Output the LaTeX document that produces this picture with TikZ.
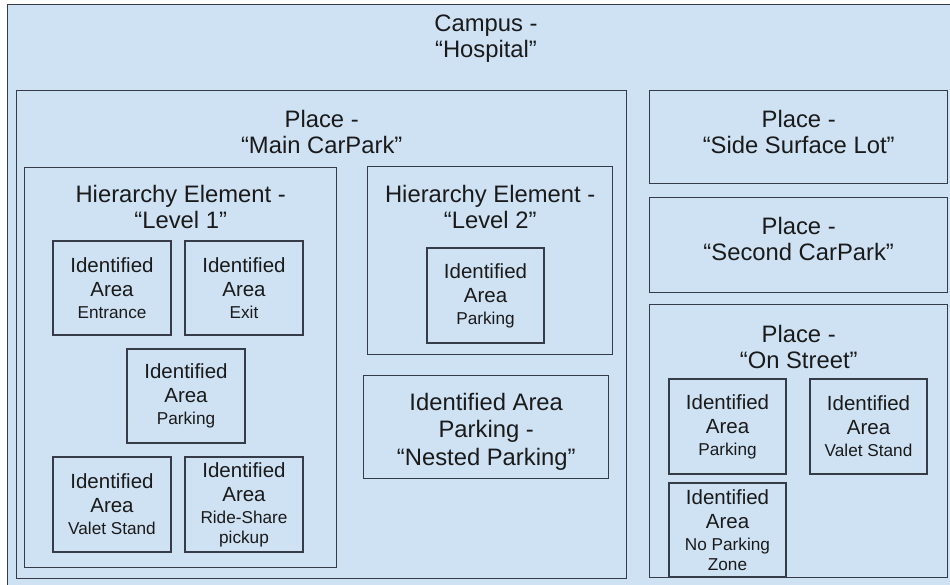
\documentclass[tikz,border=0pt]{standalone}
\usepackage{fontspec}
\setmainfont{Liberation Sans}
\usetikzlibrary{positioning}
\definecolor{gd_fill}{HTML}{CFE2F3}
\definecolor{gd_line}{HTML}{353B47}
\definecolor{gd_text}{HTML}{1A1A1A}
\tikzstyle{place} = [rectangle, draw=gd_line, line width=1.4pt, fill=gd_fill, anchor=north west, inner sep=0pt]
\tikzstyle{title} = [anchor=north, inner sep=0pt, align=center, text=gd_text, font=\fontsize{23.8}{26}\selectfont]
\tikzstyle{area} = [place, anchor=center, align=center, text=gd_text, font=\fontsize{20.5}{24}\selectfont]
\newcommand{\arealabel}[1]{{\fontsize{17.2}{20}\selectfont #1}}

\begin{document}
\begin{tikzpicture}[x=1pt, y=-1pt]
        \clip (0,0) rectangle (950,585);
        \fill[white] (0,0) rectangle (950,585);

        % campus
        \node (campus) [place, minimum width=990pt, minimum height=640pt] at (7,4) {};
        \node (campus_t) [title] at (486,15) {Campus -\\“Hospital”};

        % main car park
        \node (maincp) [place, minimum width=610pt, minimum height=488pt] at (16,90) {};
        \node (maincp_t) [title] at (maincp.north |- 0,110) {Place -\\“Main CarPark”};

        \node (lvlone) [place, minimum width=312pt, minimum height=400pt] at (24,167) {};
        \node (lvlone_t) [title] at (lvlone.north |- 0,185) {Hierarchy Element -\\“Level 1”};
        \node (lvlone_entr) [area, minimum width=118pt, minimum height=94pt] at (112,288) {Identified\\Area\\[-2pt]\arealabel{Entrance}};
        \node (lvlone_exit) [area, minimum width=118pt, minimum height=94pt] at (244,288) {Identified\\Area\\[-2pt]\arealabel{Exit}};
        \node (lvlone_park) [area, minimum width=118pt, minimum height=94pt] at (186,396) {Identified\\Area\\[-2pt]\arealabel{Parking}};
        \node (lvlone_valet) [area, minimum width=118pt, minimum height=95pt] at (112,504.5) {Identified\\Area\\[-2pt]\arealabel{Valet Stand}};
        \node (lvlone_ride) [area, minimum width=118pt, minimum height=95pt] at (244,504.5) {Identified\\Area\\[-2pt]\arealabel{Ride-Share}\\[-4pt]\arealabel{pickup}};

        \node (lvltwo) [place, minimum width=245pt, minimum height=188pt] at (367,166) {};
        \node (lvltwo_t) [title] at (lvltwo.north |- 0,185) {Hierarchy Element -\\“Level 2”};
        \node (lvltwo_park) [area, minimum width=117pt, minimum height=95pt] at (485.5,295.5) {Identified\\Area\\[-2pt]\arealabel{Parking}};

        \node (nested) [place, minimum width=245pt, minimum height=103pt] at (363,375) {};
        \node (nested_t) [title] at (nested.north |- 0,393) {Identified Area\\[1.5pt]Parking -\\[1.5pt]“Nested Parking”};

        % right column
        \node (sidelot) [place, minimum width=298pt, minimum height=93pt] at (649,90) {};
        \node (sidelot_t) [title] at (sidelot.north |- 0,110) {Place -\\“Side Surface Lot”};

        \node (secondcp) [place, minimum width=298pt, minimum height=95pt] at (649,197) {};
        \node (secondcp_t) [title] at (secondcp.north |- 0,217) {Place -\\“Second CarPark”};

        \node (street) [place, minimum width=298pt, minimum height=273pt] at (649,304) {};
        \node (street_t) [title] at (street.north |- 0,325) {Place -\\“On Street”};
        \node (street_park) [area, minimum width=117pt, minimum height=95pt] at (727.5,426.5) {Identified\\Area\\[-2pt]\arealabel{Parking}};
        \node (street_valet) [area, minimum width=117pt, minimum height=95pt] at (868.5,426.5) {Identified\\Area\\[-2pt]\arealabel{Valet Stand}};
        \node (street_nopark) [area, minimum width=117pt, minimum height=94pt] at (727.5,530) {Identified\\Area\\[-2pt]\arealabel{No Parking}\\[-4pt]\arealabel{Zone}};
    \end{tikzpicture}
\end{document}
